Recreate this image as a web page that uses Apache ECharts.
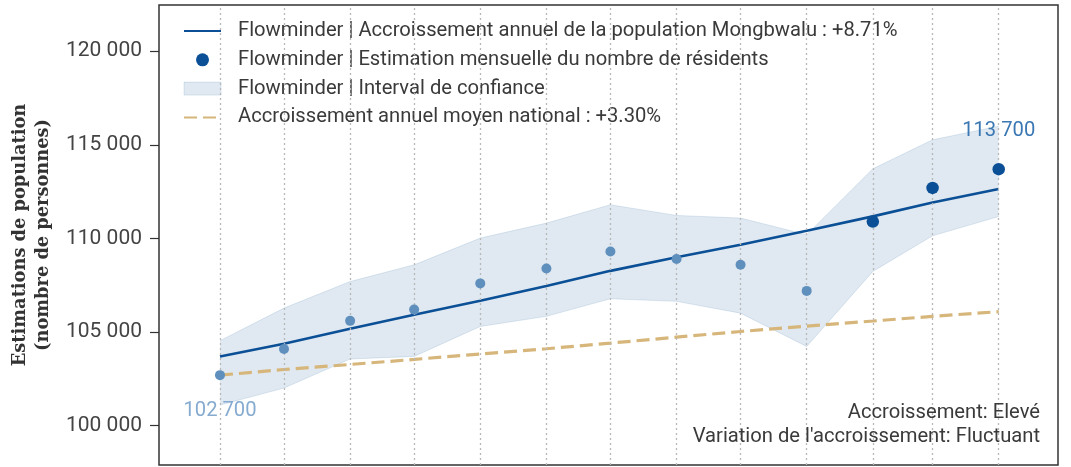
<!DOCTYPE html>
<html>
<head>
<meta charset="utf-8">
<script src="https://cdn.jsdelivr.net/npm/echarts@6.0.0/dist/echarts.min.js"></script>
<style>
  html, body { margin: 0; padding: 0; background: #fff; }
  #chart { width: 1071px; height: 467px; }
</style>
</head>
<body>
<div id="chart"></div>
<script>
// Monthly estimates (first day of each month)
const months = [
  '2022-04-01', '2022-05-01', '2022-06-01', '2022-07-01', '2022-08-01', '2022-09-01',
  '2022-10-01', '2022-11-01', '2022-12-01', '2023-01-01', '2023-02-01', '2023-03-01',
  '2023-04-01'
];
const residents = [102700, 104100, 105600, 106200, 107600, 108400, 109300, 108900, 108600, 107200, 110900, 112700, 113700];
const trend     = [103700, 104380, 105180, 105930, 106670, 107460, 108270, 109000, 109660, 110410, 111180, 111920, 112640];
const national  = [102700, 103000, 103270, 103540, 103830, 104110, 104410, 104730, 105030, 105320, 105590, 105840, 106090];
const ciLower   = [101100, 102010, 103560, 103700, 105300, 105840, 106780, 106640, 106010, 104230, 108240, 110140, 111170];
const ciUpper   = [104540, 106280, 107700, 108590, 110020, 110820, 111800, 111230, 111090, 110200, 113720, 115270, 116000];
const yTicks    = [100000, 105000, 110000, 115000, 120000];

const seriesNames = {
  trend: 'Flowminder | Accroissement annuel de la population Mongbwalu : +8.71%',
  points: 'Flowminder | Estimation mensuelle du nombre de résidents',
  band: 'Flowminder | Interval de confiance',
  national: 'Accroissement annuel moyen national : +3.30%'
};
const notes = ['Accroissement: Elevé', "Variation de l'accroissement: Fluctuant"];

const recentCount = 3;           // latest months drawn emphasised
const BLUE = '#0b5096';
const BLUE_SOFT = '#5f8fbd';
const GOLD = '#d6b67a';
const BAND = 'rgba(12,82,150,0.13)';
const BAND_EDGE = 'rgba(12,82,150,0.12)';
const FONT = 'Roboto, "Noto Sans", sans-serif';
const TEXT_SIZE = 20.2;

const fmt = v => String(v).replace(/\B(?=(\d{3})+(?!\d))/g, ' ');
const pairs = arr => months.map((m, i) => [m, arr[i]]);

const last = residents.length - 1;
const isRecent = i => i > last - recentCount;
const pointData = months.map((m, i) => {
  const item = { value: [m, residents[i]] };
  if (i === 0) {
    item.label = { show: true, position: 'bottom', distance: 21, color: '#86abd0' };
  } else if (i === last) {
    item.label = { show: true, position: 'top', distance: 22, color: '#3a77b3' };
  }
  return item;
});

const hiddenMarker = { color: 'rgba(0,0,0,0)', borderWidth: 0, opacity: 0 };

const chart = echarts.init(document.getElementById('chart'), null, { renderer: 'canvas' });

chart.setOption({
  animation: false,
  backgroundColor: '#fff',
  grid: {
    left: 159, top: 5, right: 13, bottom: 2,
    show: true, borderColor: '#333', borderWidth: 1.5, backgroundColor: 'transparent'
  },
  xAxis: {
    type: 'time',
    min: '2022-03-03 10:00',
    max: '2023-04-28 19:00',
    axisLabel: { show: false },
    axisTick: { show: false },
    axisLine: { show: false },
    splitLine: { show: false }
  },
  yAxis: {
    type: 'value',
    min: 97900,
    max: 122470,
    axisLine: { show: false },
    axisTick: { show: true, length: 9, lineStyle: { color: '#333', width: 1.2 }, customValues: yTicks },
    axisLabel: {
      customValues: yTicks, margin: 17, color: '#444',
      fontFamily: FONT, fontSize: 21,
      formatter: v => fmt(v)
    },
    splitLine: { show: false },
    name: 'Estimations de population\n(nombre de personnes)',
    nameLocation: 'middle',
    nameRotate: 90,
    nameGap: 86,
    nameTextStyle: {
      fontFamily: '"DejaVu Serif", "Liberation Serif", serif',
      fontWeight: 'bold', fontSize: 17.8, color: '#333', lineHeight: 23, align: 'center'
    }
  },
  legend: {
    orient: 'vertical',
    left: 183, top: 21,
    itemWidth: 37, itemHeight: 13, itemGap: 8.8,
    padding: 0,
    textStyle: { fontFamily: FONT, fontSize: TEXT_SIZE, color: '#3a3a3a', padding: [0, 0, 0, 12] },
    data: [
      { name: seriesNames.trend, itemStyle: hiddenMarker },
      { name: seriesNames.points, icon: 'circle', itemStyle: { color: BLUE, opacity: 1 } },
      { name: seriesNames.band, icon: 'rect', itemStyle: { color: BAND, borderColor: BAND_EDGE, borderWidth: 1 } },
      { name: seriesNames.national, itemStyle: hiddenMarker }
    ]
  },
  series: [
    {
      // lower bound of the confidence band (base of the stack)
      name: 'ciBase',
      type: 'line',
      stack: 'ci',
      data: pairs(ciLower),
      symbol: 'none',
      lineStyle: { color: BAND_EDGE, width: 1 },
      silent: true,
      z: 1,
      markLine: {
        silent: true,
        symbol: 'none',
        label: { show: false },
        lineStyle: { color: '#b8b8b8', type: [2, 3], width: 1.3 },
        data: months.map(m => ({ xAxis: m }))
      }
    },
    {
      name: seriesNames.band,
      type: 'line',
      stack: 'ci',
      data: months.map((m, i) => [m, ciUpper[i] - ciLower[i]]),
      symbol: 'none',
      lineStyle: { color: BAND_EDGE, width: 1 },
      areaStyle: { color: BAND, opacity: 1 },
      itemStyle: { color: BAND },
      silent: true,
      z: 2
    },
    {
      name: seriesNames.national,
      type: 'line',
      data: pairs(national),
      symbol: 'none',
      lineStyle: { color: GOLD, width: 3.2, type: [13, 6] },
      itemStyle: { color: GOLD },
      z: 3
    },
    {
      name: seriesNames.trend,
      type: 'line',
      data: pairs(trend),
      symbol: 'none',
      lineStyle: { color: BLUE, width: 2.6 },
      itemStyle: { color: BLUE },
      z: 4
    },
    {
      name: seriesNames.points,
      type: 'scatter',
      data: pointData,
      symbolSize: (v, p) => (isRecent(p.dataIndex) ? 12.5 : 10),
      itemStyle: {
        opacity: 1,
        color: p => (isRecent(p.dataIndex) ? BLUE : BLUE_SOFT)
      },
      label: {
        show: false,
        fontFamily: FONT, fontSize: TEXT_SIZE,
        formatter: p => fmt(p.value[1])
      },
      z: 5
    }
  ],
  graphic: [
    {
      type: 'text',
      right: 31,
      bottom: 44,
      z: 10,
      style: { text: notes[0], font: TEXT_SIZE + 'px ' + FONT, fill: '#3a3a3a' }
    },
    {
      type: 'text',
      right: 31,
      bottom: 20,
      z: 10,
      style: { text: notes[1], font: TEXT_SIZE + 'px ' + FONT, fill: '#3a3a3a' }
    }
  ]
});
</script>
</body>
</html>
